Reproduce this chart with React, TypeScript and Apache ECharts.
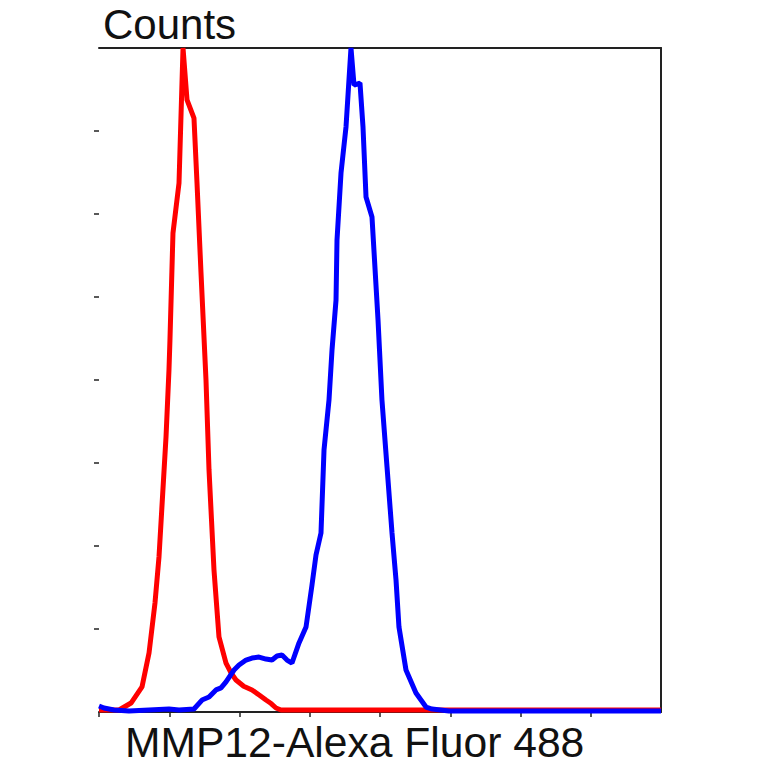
import { useRef, useEffect } from "react";
import * as echarts from "echarts";

// fluorescence intensity (decades, 0..8) and counts
const redX = [
  0, 0.285, 0.456, 0.612, 0.712, 0.797, 0.854, 0.954, 0.996, 1.01, 1.053,
  1.139, 1.196, 1.253, 1.352, 1.395, 1.452, 1.523, 1.566, 1.637, 1.708, 1.808,
  1.88, 1.95, 2.06, 2.178, 2.28, 2.377, 2.45, 2.52, 2.591, 8,
];
const redY = [
  1.2, 1.2, 5.4, 15.1, 35.5, 65.7, 93.4, 165.7, 206, 224, 288.5, 318.7, 400,
  368.7, 357.8, 318.7, 264.5, 200, 145.8, 85.5, 45.2, 29.5, 23.5, 19.3, 15.5,
  13.3, 10.2, 7.2, 5.1, 2.4, 1.2, 1.2,
];

const blueX = [
  0, 0.071, 0.214, 0.427, 0.712, 0.996, 1.139, 1.352, 1.466, 1.566, 1.665,
  1.737, 1.808, 1.922, 1.993, 2.093, 2.178, 2.278, 2.377, 2.463, 2.534, 2.605,
  2.676, 2.747, 2.847, 2.947, 3.032, 3.089, 3.16, 3.203, 3.274, 3.317, 3.374,
  3.388, 3.445, 3.516, 3.587, 3.63, 3.715, 3.758, 3.801, 3.886, 3.972, 4.028,
  4.1, 4.171, 4.228, 4.27, 4.37, 4.512, 4.655, 4.74, 4.982, 8,
];
const blueY = [
  3.6, 2.4, 1.2, 0.6, 1.2, 1.8, 1.2, 1.8, 7.2, 9.0, 13.3, 14.5, 18.1, 25.3,
  28.3, 31.3, 32.5, 33.1, 31.9, 31.3, 33.7, 34.3, 31.3, 29.5, 41.6, 51.2, 76.5,
  94.6, 107.8, 157.8, 187.9, 218.1, 248.2, 284.3, 324.7, 352.4, 400, 377.7,
  378.9, 352.4, 310.2, 298.2, 236.1, 187.9, 147.6, 107.8, 79.5, 51.2, 25.3,
  11.4, 3.0, 1.8, 0.6, 0.6,
];

const xTicks = [0, 1, 2, 3, 4, 5, 6, 7];
const yTicks = [50, 100, 150, 200, 250, 300, 350];

const frame = { color: "#222", width: 2 };

const App = () => {
  const chartRef = useRef<HTMLDivElement>(null);

  useEffect(() => {
    const myChart = echarts.init(chartRef.current, null, { renderer: "svg" });

    const option = {
      animation: false,
      backgroundColor: "#fff",
      grid: {
        left: 99,
        right: 103,
        top: 48,
        bottom: 52,
        outerBoundsMode: "none",
      },
      xAxis: [
        {
          type: "value",
          min: 0,
          max: 8,
          interval: 1,
          axisLine: { show: true, onZero: false, lineStyle: frame },
          axisTick: {
            show: true,
            length: 5,
            customValues: xTicks,
            lineStyle: { color: "#222", width: 1.5 },
          },
          axisLabel: { show: false },
          splitLine: { show: false },
        },
        {
          type: "value",
          position: "top",
          min: 0,
          max: 8,
          axisLine: { show: true, onZero: false, lineStyle: frame },
          axisTick: { show: false },
          axisLabel: { show: false },
          splitLine: { show: false },
        },
      ],
      yAxis: [
        {
          type: "value",
          min: 0,
          max: 400,
          interval: 50,
          axisLine: { show: false, onZero: false },
          axisTick: {
            show: true,
            length: 5,
            customValues: yTicks,
            lineStyle: { color: "#222", width: 1.5 },
          },
          axisLabel: { show: false },
          splitLine: { show: false },
        },
        {
          type: "value",
          position: "right",
          min: 0,
          max: 400,
          axisLine: { show: true, onZero: false, lineStyle: frame },
          axisTick: { show: false },
          axisLabel: { show: false },
          splitLine: { show: false },
        },
      ],
      graphic: [
        {
          type: "text",
          left: 103,
          top: 3,
          style: {
            text: "Counts",
            fontFamily: "Liberation Sans",
            fontSize: 42,
            fill: "#111",
          },
        },
        {
          type: "text",
          left: 125,
          top: 720,
          style: {
            text: "MMP12-Alexa Fluor 488",
            fontFamily: "Liberation Sans",
            fontSize: 42.6,
            lineHeight: 40,
            fill: "#111",
          },
        },
      ],
      series: [
        {
          name: "Control",
          type: "line",
          data: redX.map((x, i) => [x, redY[i]]),
          showSymbol: false,
          lineStyle: { color: "#ff0000", width: 5 },
          z: 2,
        },
        {
          name: "MMP12",
          type: "line",
          data: blueX.map((x, i) => [x, blueY[i]]),
          showSymbol: false,
          lineStyle: { color: "#0000ff", width: 5 },
          z: 3,
        },
      ],
    };

    myChart.setOption(option);

    return () => {
      myChart.dispose();
    };
  }, []);

  return (
    <div
      ref={chartRef}
      style={{ position: "absolute", left: 0, top: 0, width: "764px", height: "764px" }}
    ></div>
  );
};

export default App;
